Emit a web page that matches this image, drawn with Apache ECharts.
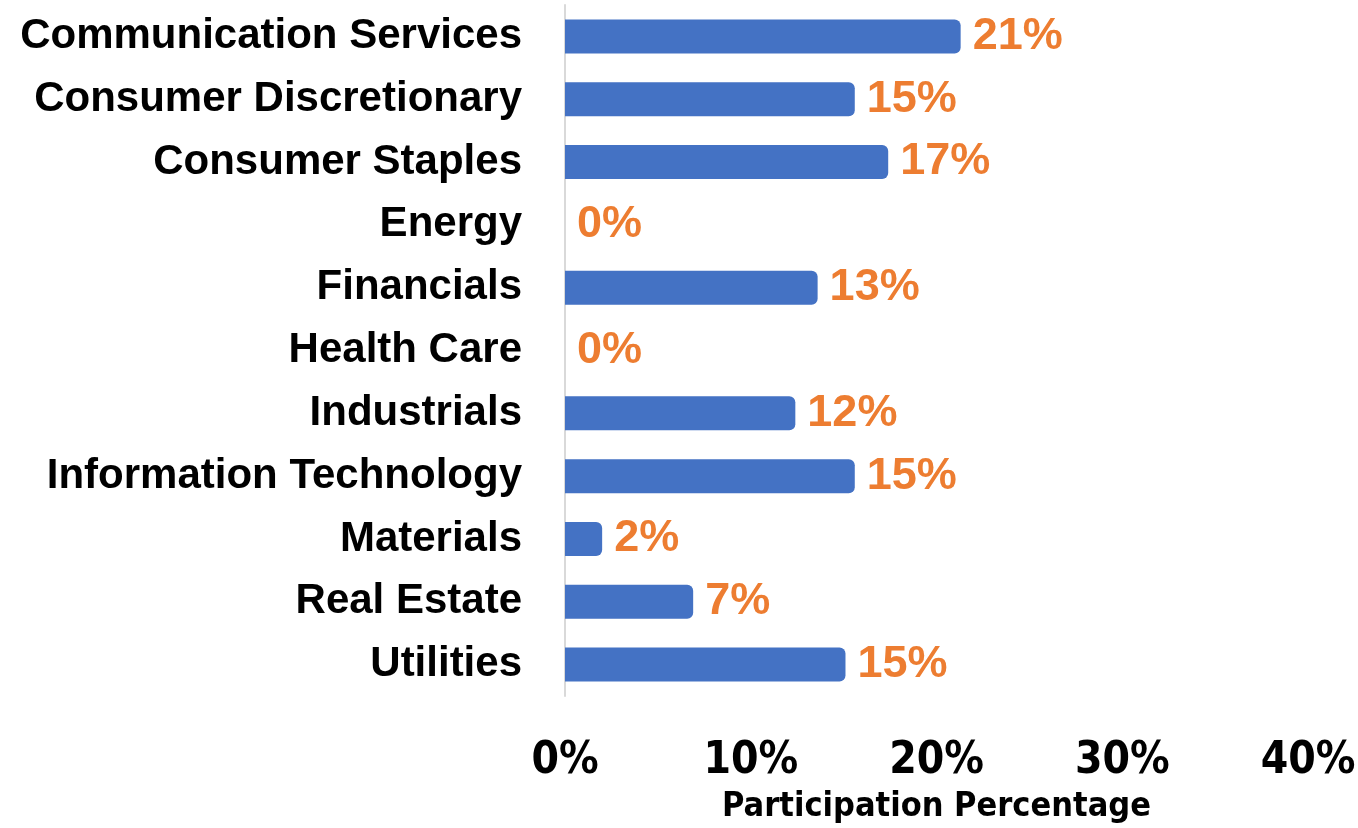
<!DOCTYPE html>
<html>
<head>
<meta charset="utf-8">
<script src="https://cdn.jsdelivr.net/npm/echarts@6/dist/echarts.min.js"></script>
<style>
  html, body { margin: 0; padding: 0; background: #fff; }
  #main { width: 1358px; height: 828px; }
</style>
</head>
<body>
<div id="main"></div>
<script>
// sectors, top to bottom as shown
var sectors = ["Communication Services", "Consumer Discretionary", "Consumer Staples", "Energy",
  "Financials", "Health Care", "Industrials", "Information Technology", "Materials",
  "Real Estate", "Utilities"];
// bar lengths (percent)
var participation = [21.3, 15.6, 17.4, 0, 13.6, 0, 12.4, 15.6, 2.0, 6.9, 15.1];
// the labels printed next to the bars
var shownLabels = ["21%", "15%", "17%", "0%", "13%", "0%", "12%", "15%", "2%", "7%", "15%"];
var xTicks = [0, 10, 20, 30, 40];

var narrow = "DejaVu Sans Condensed";

var myChart = echarts.init(document.getElementById("main"));
myChart.setOption({
  animation: false,
  grid: { left: 565, right: 50, top: 5, bottom: 132, outerBoundsMode: "none", containLabel: false },
  xAxis: {
    type: "value",
    min: xTicks[0],
    max: xTicks[xTicks.length - 1],
    interval: 10,
    name: "Participation Percentage",
    nameLocation: "middle",
    nameGap: 94,
    nameTextStyle: { fontFamily: narrow, fontWeight: "bold", fontSize: 34, color: "#000" },
    axisLine: { show: false },
    axisTick: { show: false },
    splitLine: { show: false },
    axisLabel: {
      margin: 44,
      fontFamily: narrow,
      fontWeight: "bold",
      fontSize: 44,
      color: "#000",
      formatter: "{value}%"
    }
  },
  yAxis: {
    type: "category",
    inverse: true,
    data: sectors,
    axisLine: { show: true, lineStyle: { color: "#d9d9d9", width: 2 } },
    axisTick: { show: false },
    axisLabel: {
      margin: 43,
      fontFamily: "Liberation Sans",
      fontWeight: "bold",
      fontSize: 42,
      color: "#000",
      padding: [10, 0, 0, 0]
    }
  },
  series: [
    {
      type: "bar",
      data: participation,
      barWidth: 34,
      itemStyle: { color: "#4472C4", borderRadius: [0, 6, 6, 0] },
      label: {
        show: true,
        position: "right",
        distance: 12,
        fontFamily: "Liberation Sans",
        fontWeight: "bold",
        fontSize: 45,
        color: "#ED7D31",
        padding: [14, 0, 0, 0],
        formatter: function (p) { return shownLabels[p.dataIndex]; }
      }
    }
  ]
});
</script>
</body>
</html>
